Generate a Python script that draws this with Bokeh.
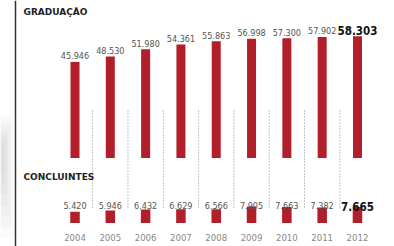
from bokeh.plotting import figure
from bokeh.models import Range1d, Span, ColumnDataSource
from bokeh.core.properties import value
from bokeh.embed import file_html
from bokeh.resources import INLINE

years = [2004, 2005, 2006, 2007, 2008, 2009, 2010, 2011, 2012]
graduacao = [45946, 48530, 51980, 54361, 55863, 56998, 57300, 57902, 58303]
concluintes = [5420, 5946, 6432, 6629, 6566, 7905, 7663, 7382, 7665]
year_labels = [str(y) for y in years]
title_top = "GRADUAÇÃO"
title_bottom = "CONCLUINTES"

def fmt(v):
    return f"{v:,}".replace(",", ".")

# layout helpers (pixel geometry of the page)
W, H = 394, 246
K = 0.00209            # px per person
BASE_PX = 222.5        # lower baseline, px from top of figure
def y_at(px_from_top):
    return (BASE_PX - px_from_top) / K
def x_at(px_from_left):
    return 2004 + (px_from_left - 74.5) / 35.31

RED = "#b11f2b"
NARROW = "DejaVu Sans Condensed, DejaVu Sans, sans-serif"

p = figure(width=W, height=H, output_backend="svg", toolbar_location=None,
           x_range=Range1d(x_at(0), x_at(W)), y_range=Range1d(y_at(H), y_at(0)),
           min_border=0, outline_line_color=None)
p.axis.visible = False
p.grid.visible = False
p.background_fill_color = "white"

upper_base = y_at(157.5)
src = ColumnDataSource(dict(
    x=years, g=graduacao, c=concluintes,
    gtop=[upper_base + v for v in graduacao],
    glab=[fmt(v) for v in graduacao],
    clab=[fmt(v) for v in concluintes],
    ylab=year_labels,
))

# soft page shadow on the left edge
for i in range(7):
    p.quad(left=x_at(0), right=x_at(13 - 1.6 * i), bottom=y_at(238 - 11 * i), top=y_at(115 + 5 * i),
           fill_color="#808080", fill_alpha=0.045, line_color=None)

# left rule
p.add_layout(Span(location=x_at(15), dimension="height", line_color="#333333", line_width=1.5))

# dotted separators
sep_x = [y + 0.5 for y in years[:-1]]
p.segment(x0=sep_x, x1=sep_x, y0=[y_at(110)] * len(sep_x), y1=[y_at(208)] * len(sep_x),
          line_color="#8a8a8a", line_width=1, line_dash="1 2")

# bars
p.vbar(x="x", bottom=upper_base, top="gtop", width=0.255, fill_color=RED, line_color=None, source=src)
p.vbar(x="x", bottom=0, top="c", width=0.27, fill_color=RED, line_color=None, source=src)

# upper value labels
off = 6 / K
n = len(years) - 1
p.text(x=years[:n], y=[t + off for t in src.data["gtop"][:n]], text=src.data["glab"][:n],
       text_align="center", text_baseline="alphabetic", text_font=value(NARROW),
       text_font_size="9px", text_color="#555555")
p.text(x=[years[n]], y=[src.data["gtop"][n] + off], text=[src.data["glab"][n]],
       text_align="center", text_baseline="alphabetic", text_font=value(NARROW),
       text_font_size="11.5px", text_font_style="bold", text_color="#111111")

# lower value labels
p.text(x=years[:n], y=[y_at(205)] * n, text=src.data["clab"][:n],
       text_align="center", text_baseline="alphabetic", text_font=value(NARROW),
       text_font_size="9px", text_color="#555555")
p.text(x=[years[n]], y=[y_at(205.5)], text=[src.data["clab"][n]],
       text_align="center", text_baseline="alphabetic", text_font=value(NARROW),
       text_font_size="11.5px", text_font_style="bold", text_color="#111111")

# year labels
p.text(x="x", y=y_at(237), text="ylab", source=src,
       text_align="center", text_baseline="middle", text_font=value(NARROW),
       text_font_size="9.5px", text_color="#888888")

# section titles
p.text(x=[x_at(23)], y=[y_at(11.5)], text=[title_top], text_align="left", text_baseline="middle",
       text_font=value("DejaVu Sans"), text_font_size="9px", text_font_style="bold", text_color="#222222")
p.text(x=[x_at(23)], y=[y_at(176)], text=[title_bottom], text_align="left", text_baseline="middle",
       text_font=value("DejaVu Sans"), text_font_size="9px", text_font_style="bold", text_color="#222222")

open("out.html", "w").write(file_html(p, INLINE))
